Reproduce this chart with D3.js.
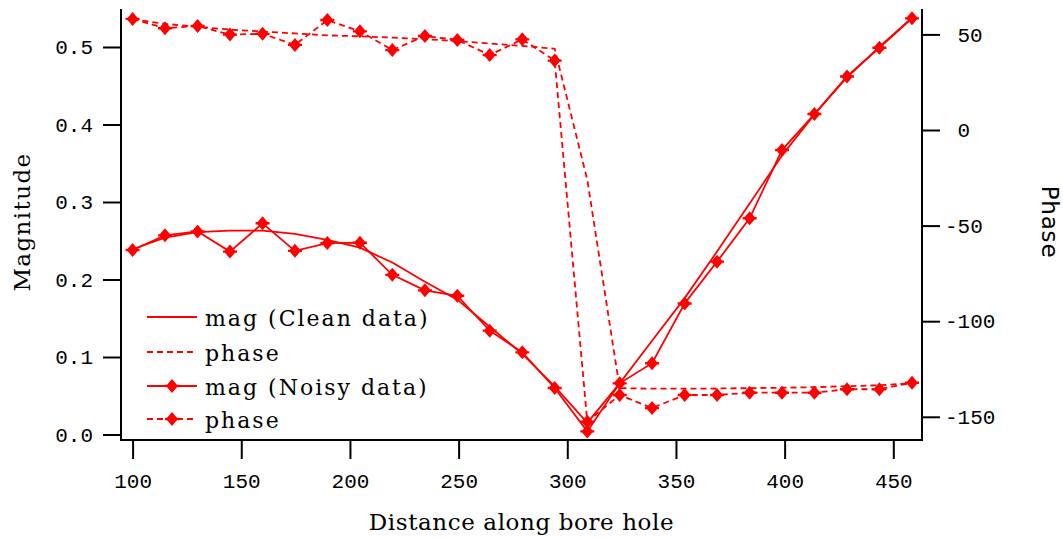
<!DOCTYPE html>
<html>
<head>
<meta charset="utf-8">
<script src="https://cdn.jsdelivr.net/npm/d3@7"></script>
<style>
  html, body { margin: 0; padding: 0; background: #fff; }
  svg { display: block; }
  .tick text { font-family: "Liberation Mono", "DejaVu Sans Mono", monospace; font-size: 21px; fill: #000; }
</style>
</head>
<body>
<svg id="chart" width="1063" height="538"></svg>
<script>
// ---- data ----
const distance = [100, 114.9, 129.9, 144.8, 159.8, 174.7, 189.6, 204.6, 219.5, 234.5,
                  249.4, 264.3, 279.3, 294.2, 309.2, 324.1, 339, 354, 368.9, 383.9,
                  398.8, 413.7, 428.7, 443.6, 458.6];
const magClean = [0.239, 0.254, 0.261, 0.263, 0.263, 0.259, 0.251, 0.241, 0.222, 0.197,
                  0.174, 0.139, 0.104, 0.062, 0.015, 0.066, 0.121, 0.176, 0.236, 0.298,
                  0.360, 0.413, 0.461, 0.500, 0.538];
const phaseClean = [58, 55.5, 54, 52.5, 51.5, 50.5, 49.5, 49, 48.3, 47.5, 46.5, 45.2, 44,
                    42.5, -26, -135, -135.3, -135.3, -135.2, -135, -134.8, -134.5, -134,
                    -133.5, -132.5];
const magNoisy = [0.238, 0.257, 0.262, 0.236, 0.2725, 0.237, 0.247, 0.2475, 0.206, 0.186,
                  0.179, 0.134, 0.106, 0.060, 0.004, 0.066, 0.092, 0.169, 0.223, 0.279,
                  0.367, 0.4135, 0.462, 0.499, 0.537];
const phaseNoisy = [58.1, 53.2, 54.4, 49.9, 50.3, 44.5, 57.5, 51.6, 41.8, 49.2, 47.1, 39.2,
                    47.4, 36.3, -152.6, -138.6, -145.4, -138.6, -138.6, -137.4, -137.4,
                    -137.4, -135.6, -135.6, -132.2];
const magTicks = [0.0, 0.1, 0.2, 0.3, 0.4, 0.5];
const phaseTicks = [-150, -100, -50, 0, 50];
const distTicks = [100, 150, 200, 250, 300, 350, 400, 450];
const legendLabels = ["mag (Clean data)", "phase", "mag (Noisy data)", "phase"];
const xTitle = "Distance along bore hole";
const yTitleLeft = "Magnitude";
const yTitleRight = "Phase";

// ---- layout ----
const pLeft = 121, pRight = 922, pTop = 9, pBottom = 440;
const red = "#ff0000";

const svg = d3.select("#chart");

const x = d3.scaleLinear().domain([100, 450]).range([132.6, 893.3]);
const yMag = d3.scaleLinear().domain([0, 0.5]).range([434.5, 47]);
const yPh = d3.scaleLinear().domain([0, 50]).range([130, 34.4]);

// ---- axes ----
const axL = svg.append("g").attr("transform", `translate(${pLeft},0)`)
  .call(d3.axisLeft(yMag).tickValues(magTicks).tickSize(18).tickSizeOuter(0)
        .tickPadding(10).tickFormat(d3.format(".1f")));
axL.select(".domain").attr("d", `M0,${pTop}V${pBottom + 1}`);

const axR = svg.append("g").attr("transform", `translate(${pRight},0)`)
  .call(d3.axisRight(yPh).tickValues(phaseTicks).tickSize(18).tickSizeOuter(0)
        .tickFormat(d => String(d)));
axR.select(".domain").attr("d", `M0,${pTop}V${pBottom + 1}`);
axR.selectAll(".tick text").attr("x", d => d < 0 ? 23 : 35.5);

const axB = svg.append("g").attr("transform", `translate(0,${pBottom})`)
  .call(d3.axisBottom(x).tickValues(distTicks).tickSize(19).tickSizeOuter(0)
        .tickFormat(d => String(d)));
axB.select(".domain").attr("d", `M${pLeft},0H${pRight}`);
axB.selectAll(".tick text").attr("y", 48).attr("dy", 0);

svg.selectAll(".domain, .tick line").attr("stroke", "#000").attr("stroke-width", 2);

// ---- titles ----
svg.append("text")
  .attr("x", (pLeft + pRight) / 2).attr("y", 530)
  .attr("text-anchor", "middle")
  .style("font-family", "'DejaVu Serif', serif").style("font-size", "23px")
  .style("letter-spacing", "0.6px")
  .text(xTitle);

svg.append("text")
  .attr("transform", "translate(30,222) rotate(-90)")
  .attr("text-anchor", "middle")
  .style("font-family", "'DejaVu Serif', serif").style("font-size", "23px")
  .style("letter-spacing", "1.4px")
  .text(yTitleLeft);

svg.append("text")
  .attr("transform", "translate(1042,222) rotate(90)")
  .attr("text-anchor", "middle")
  .style("font-family", "'DejaVu Sans', sans-serif").style("font-size", "23px")
  .style("letter-spacing", "0.8px")
  .text(yTitleRight);

// ---- marker symbol: filled diamond with small side spurs ----
const marker = {
  draw(ctx, size) {
    const h = 7, w = 6, s = 7, t = 1.2;
    ctx.moveTo(0, -h); ctx.lineTo(w, 0); ctx.lineTo(0, h); ctx.lineTo(-w, 0); ctx.closePath();
    ctx.moveTo(-s, -t); ctx.lineTo(s, -t); ctx.lineTo(s, t); ctx.lineTo(-s, t); ctx.closePath();
  }
};
const markerPath = d3.symbol().type(marker)();

// ---- series ----
const plot = svg.append("g");
function drawSeries(vals, yScale, dashed, withMarkers) {
  const pts = distance.map((d, i) => [d, vals[i]]);
  const line = d3.line().x(p => x(p[0])).y(p => yScale(p[1]));
  plot.append("path").datum(pts)
    .attr("d", line)
    .attr("fill", "none").attr("stroke", red).attr("stroke-width", 1.8)
    .attr("stroke-dasharray", dashed ? "6,4" : null);
  if (withMarkers) {
    plot.selectAll(null).data(pts).enter().append("path")
      .attr("d", markerPath)
      .attr("transform", p => `translate(${x(p[0])},${yScale(p[1])})`)
      .attr("fill", red);
  }
}
drawSeries(magClean, yMag, false, false);
drawSeries(phaseClean, yPh, true, false);
drawSeries(magNoisy, yMag, false, true);
drawSeries(phaseNoisy, yPh, true, true);

// ---- legend ----
const legendRows = [317, 352, 386, 419];
const legendStyle = [
  { dashed: false, marker: false },
  { dashed: true, marker: false },
  { dashed: false, marker: true },
  { dashed: true, marker: true }
];
const lg = svg.append("g");
legendLabels.forEach((lab, i) => {
  const yy = legendRows[i];
  lg.append("line").attr("x1", 147).attr("x2", 197).attr("y1", yy).attr("y2", yy)
    .attr("stroke", red).attr("stroke-width", 1.8)
    .attr("stroke-dasharray", legendStyle[i].dashed ? "6,4" : null);
  if (legendStyle[i].marker) {
    lg.append("path").attr("d", markerPath)
      .attr("transform", `translate(172,${yy})`).attr("fill", red);
  }
  lg.append("text").attr("x", 205).attr("y", yy + 9)
    .style("font-family", "'DejaVu Serif', serif").style("font-size", "22px")
    .style("letter-spacing", "2px")
    .text(lab);
});
</script>
</body>
</html>
